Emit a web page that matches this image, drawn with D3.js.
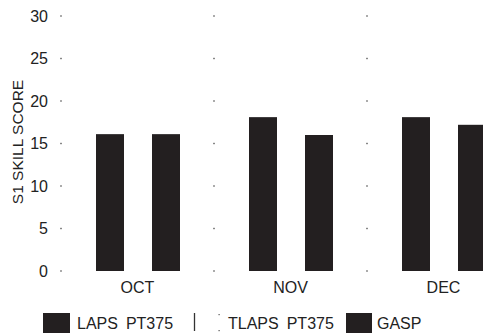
<!DOCTYPE html>
<html><head><meta charset="utf-8">
<script src="https://cdn.jsdelivr.net/npm/d3@7/dist/d3.min.js"></script>
<style>
html,body{margin:0;padding:0;background:#fff;}
svg{display:block;font-family:"Liberation Sans",Arial,sans-serif;}
</style></head>
<body>
<svg id="c" width="483" height="334"></svg>
<script>
const categories = ["OCT", "NOV", "DEC"];
const seriesNames = ["LAPS PT375", "TLAPS PT375", "GASP"];
const lapsValues = [16.1, 18.1, 18.1];
const tlapsValues = [16.9, 0, 20.0];
const gaspValues = [16.1, 16.0, 17.2];
const yTicks = [0, 5, 10, 15, 20, 25, 30];
const yLabel = "S1 SKILL SCORE";

const seriesValues = [lapsValues, tlapsValues, gaspValues];
const seriesFill = ["#231f20", "#ffffff", "#231f20"];

const svg = d3.select("#c");
const y = d3.scaleLinear().domain([0, 30]).range([271, 16]);
const x0 = d3.scaleBand().domain(categories).range([61, 520]).paddingInner(0).paddingOuter(0);
const x1 = d3.scaleBand().domain(seriesNames).range([35, 119]).paddingInner(0);

// grid dots at group boundaries
const bounds = [61, 61 + x0.bandwidth(), 61 + 2 * x0.bandwidth()];
bounds.forEach((bx, i) => {
  yTicks.forEach(t => {
    svg.append("rect").attr("x", bx - 0.7).attr("y", y(t) - 0.7)
      .attr("width", 1.4).attr("height", 1.4).attr("fill", "#555");
  });
});

// y tick labels
svg.append("g").selectAll("text").data(yTicks).join("text")
  .attr("x", 48).attr("y", d => y(d)).attr("dy", "0.36em")
  .attr("text-anchor", "end").attr("font-size", 16).attr("fill", "#222")
  .text(d => d);

// y label
svg.append("text").attr("transform", "translate(23,142) rotate(-90)")
  .attr("text-anchor", "middle").attr("font-size", 15.5).attr("fill", "#222")
  .text(yLabel);

// bars
const groups = svg.append("g").selectAll("g").data(categories).join("g")
  .attr("transform", c => `translate(${x0(c)},0)`);
groups.each(function(c, ci) {
  const g = d3.select(this);
  seriesNames.forEach((s, si) => {
    const v = seriesValues[si][ci];
    g.append("rect").attr("x", x1(s)).attr("y", y(v))
      .attr("width", x1.bandwidth()).attr("height", y(0) - y(v))
      .attr("fill", seriesFill[si]);
  });
});

// category labels
svg.append("g").selectAll("text").data(categories).join("text")
  .attr("x", c => x0(c) + x0.bandwidth() / 2).attr("y", 293)
  .attr("text-anchor", "middle").attr("font-size", 16).attr("fill", "#222")
  .text(c => c);

// legend
const leg = svg.append("g");
// LAPS
leg.append("rect").attr("x", 43).attr("y", 313).attr("width", 27).attr("height", 20).attr("fill", "#231f20");
const t1 = leg.append("text").attr("x", 77).attr("y", 329).attr("font-size", 16).attr("fill", "#222");
t1.append("tspan").text("LAPS");
t1.append("tspan").attr("dx", 8).text("PT375");
// TLAPS
leg.append("rect").attr("x", 194).attr("y", 313).attr("width", 25).attr("height", 18).attr("fill", "#fff");
leg.append("line").attr("x1", 194.5).attr("x2", 194.5).attr("y1", 313).attr("y2", 331)
  .attr("stroke", "#333").attr("stroke-width", 1.3);
[314, 330].forEach(yy => leg.append("rect").attr("x", 218.5).attr("y", yy).attr("width", 1.2).attr("height", 1.2).attr("fill", "#555"));
const t2 = leg.append("text").attr("x", 228).attr("y", 329).attr("font-size", 16).attr("fill", "#222");
t2.append("tspan").text("TLAPS");
t2.append("tspan").attr("dx", 8).text("PT375");
// GASP
leg.append("rect").attr("x", 346).attr("y", 313).attr("width", 26).attr("height", 20).attr("fill", "#231f20");
leg.append("text").attr("x", 377).attr("y", 329).attr("font-size", 16).attr("fill", "#222").text("GASP");
</script>
</body></html>
